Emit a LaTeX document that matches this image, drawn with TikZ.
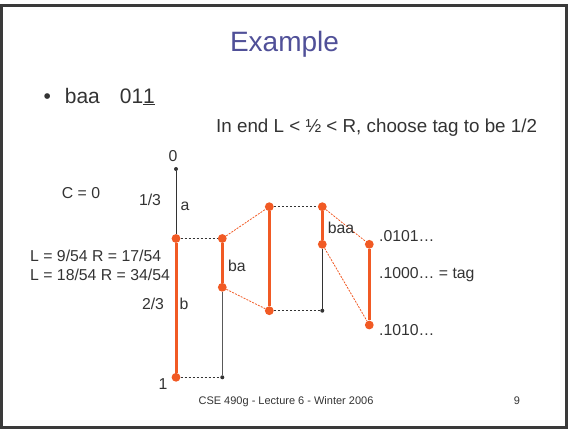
\documentclass[tikz,border=0pt]{standalone}
\usepackage{fontspec}
\setmainfont{Liberation Sans}
\definecolor{org}{RGB}{241,90,36}
\definecolor{txt}{RGB}{51,51,51}
\definecolor{ttl}{RGB}{80,80,152}
\definecolor{frm}{RGB}{58,58,58}
\begin{document}
\begin{tikzpicture}[x=1pt,y=-1pt,
  lbl/.style={inner sep=0pt, text height=0.72em, text depth=0pt, text=txt, font=\fontsize{15.8}{16}\selectfont},
  odot/.style={circle, fill=org, inner sep=0pt, minimum size=8.8pt},
  kdot/.style={circle, fill=txt, inner sep=0pt, minimum size=4pt},
  oline/.style={draw=org, line width=3pt},
  kline/.style={draw=txt, line width=1pt},
  gline/.style={draw=gray!70!black, line width=1pt},
  kdash/.style={draw=txt, line width=0.9pt, dash pattern=on 2.5pt off 1.5pt},
  odash/.style={draw=org, line width=0.8pt, dash pattern=on 2pt off 1.2pt}]
\useasboundingbox (0,0) rectangle (568,429);
\draw[draw=frm, line width=3pt] (1.5,5) rectangle (566.5,427.5);
% title and text
\node[inner sep=0pt, text=ttl, font=\fontsize{28}{28}\selectfont, text height=0.72em, text depth=0pt] (title) at (284.5,48) {Example};
\node[inner sep=0pt, text=txt, font=\fontsize{21}{21}\selectfont, anchor=base west] (bul) at (43.3,103) {\textbullet\hspace{14pt}baa\hspace{20pt}01\underline{1}};
\node[lbl, anchor=west, font=\fontsize{18.8}{19}\selectfont] (inend) at (216,129) {In end L < ½ < R, choose tag to be 1/2};
% dots
\node[kdot] (c1t) at (176,169) {};
\node[odot] (c1m) at (176,238.5) {};
\node[odot] (c1b) at (176,377.3) {};
\node[odot] (c2t) at (222.3,238.5) {};
\node[odot] (c2m) at (222.3,287.3) {};
\node[kdot] (c2b) at (222.3,377.3) {};
\node[odot] (c3t) at (269.3,206.7) {};
\node[odot] (c3b) at (269.3,310.7) {};
\node[odot] (c4t) at (322.3,206.7) {};
\node[odot] (c4m) at (322.3,244.3) {};
\node[kdot] (c4b) at (322.3,310.7) {};
\node[odot] (c5t) at (369.3,244.3) {};
\node[odot] (c5b) at (369.3,325) {};
% lines
\draw[kline] (c1t) -- (c1m);
\draw[oline] (c1m) -- (c1b);
\draw[oline] (c2t) -- (c2m);
\draw[gline] (c2m) -- (c2b);
\draw[oline] (c3t) -- (c3b);
\draw[oline] (c4t) -- (c4m);
\draw[kline] (c4m) -- (c4b);
\draw[oline] (c5t) -- (c5b);
\draw[kdash] (c1m) -- (c2t);
\draw[kdash] (c1b) -- (c2b);
\draw[kdash] (c3t) -- (c4t);
\draw[kdash] (c3b) -- (c4b);
\draw[odash] (c2t) -- (c3t);
\draw[odash] (c2m) -- (c3b);
\draw[odash] (c4t) -- (c5t);
\draw[odash] (c4m) -- (c5b);
% labels
\node[lbl] (l0) at (173,157.5) {0};
\node[lbl] (l1) at (163,385.5) {1};
\node[lbl] (lc) at (81,195) {C = 0};
\node[lbl] (l13) at (150,202) {1/3};
\node[lbl] (la) at (185,207) {a};
\node[lbl, anchor=west] (lL1) at (30,258) {L = 9/54 R = 17/54};
\node[lbl, anchor=west] (lL2) at (30,276.5) {L = 18/54 R = 34/54};
\node[lbl] (l23) at (153,306) {2/3};
\node[lbl] (lb) at (184,306) {b};
\node[lbl] (lba) at (237,268) {ba};
\node[lbl] (lbaa) at (341,230) {baa};
\node[lbl, anchor=west] (t1) at (379,238) {.0101\dots};
\node[lbl, anchor=west] (t2) at (379,275) {.1000\dots\ = tag};
\node[lbl, anchor=west] (t3) at (379,332) {.1010\dots};
% footer
\node[inner sep=0pt, text=txt, font=\fontsize{11}{11}\selectfont, text height=0.72em, text depth=0pt] (foot) at (286,401) {CSE 490g - Lecture 6 - Winter 2006};
\node[inner sep=0pt, text=txt, font=\fontsize{11}{11}\selectfont, text height=0.72em, text depth=0pt] (pg) at (517,401) {9};
\end{tikzpicture}
\end{document}
